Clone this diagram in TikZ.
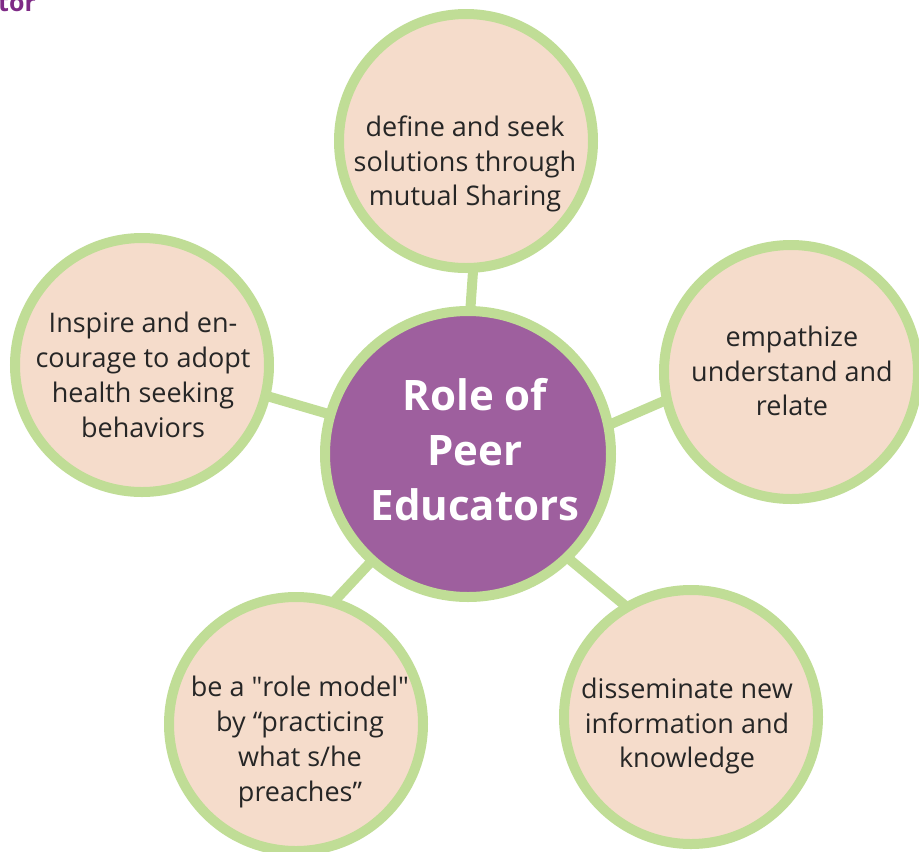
\documentclass[tikz,border=0pt]{standalone}
\usepackage{fontspec}
\setmainfont{Open Sans}
% same family without the TeX input mapping, so that " stays a straight quote
\newfontfamily\rawopen{Open Sans}
\usetikzlibrary{backgrounds}
\definecolor{ringgreen}{HTML}{C0DD96}
\definecolor{peach}{HTML}{F5DCCB}
\definecolor{hubpurple}{HTML}{9E5F9E}
\definecolor{titlepurple}{HTML}{7E2A86}
\definecolor{bodytext}{HTML}{262626}
\tikzset{
  x=1pt, y=-1pt,
  ring/.style={circle, draw=ringgreen, line width=10pt, fill=peach, minimum size=254pt, inner sep=0pt},
  hub/.style={circle, draw=ringgreen, line width=10pt, fill=hubpurple, minimum size=286pt, inner sep=0pt},
  bubbletext/.style={align=center, text=bodytext, font=\fontsize{27}{34.8}\selectfont, inner sep=0pt},
  hubtext/.style={align=center, text=white, font=\fontsize{42}{55}\bfseries\selectfont, inner sep=0pt},
  spoke/.style={draw=ringgreen, line width=10pt, shorten <=-6pt, shorten >=-6pt}
}
\newcommand{\straightquote}{{\rawopen"}}
\begin{document}
\begin{tikzpicture}
\useasboundingbox (0,0) rectangle (919,852);

% clipped end of the page heading
\node[anchor=base west, inner sep=0pt, text=titlepurple, font=\fontsize{25}{28}\bfseries\selectfont] (heading) at (-2,11) {tor};

% hub and the five bubbles
\node[hub]  (c)  at (468,454) {};
\node[ring] (t)  at (466,141) {};
\node[ring] (r)  at (791,372) {};
\node[ring] (l)  at (142,365) {};
\node[ring] (bl) at (296,724) {};
\node[ring] (br) at (691,717) {};

% spokes from the hub to each bubble
\begin{scope}[on background layer]
  \draw[spoke] (c.89)  -- (t.273);
  \draw[spoke] (c.12)  -- (r.193);
  \draw[spoke] (c.164) -- (l.346);
  \draw[spoke] (c.228) -- (bl.72);
  \draw[spoke] (c.314) -- (br.121);
\end{scope}

% texts
\node[hubtext] (ctext) at (475,450) {Role of\\Peer\\Educators};
\node[bubbletext] (ttext) at (465,164) {define and seek\\solutions through\\mutual Sharing};
\node[bubbletext] (rtext) at (792,371) {empathize\\understand and\\relate};
\node[bubbletext] (ltext) at (143,375) {Inspire and en-\\courage to adopt\\health seeking\\behaviors};
\node[bubbletext] (bltext) at (300,742) {be a \straightquote role model\straightquote\\by “practicing\\what s/he\\preaches”};
\node[bubbletext] (brtext) at (687,726) {disseminate new\\information and\\knowledge};
\end{tikzpicture}
\end{document}
